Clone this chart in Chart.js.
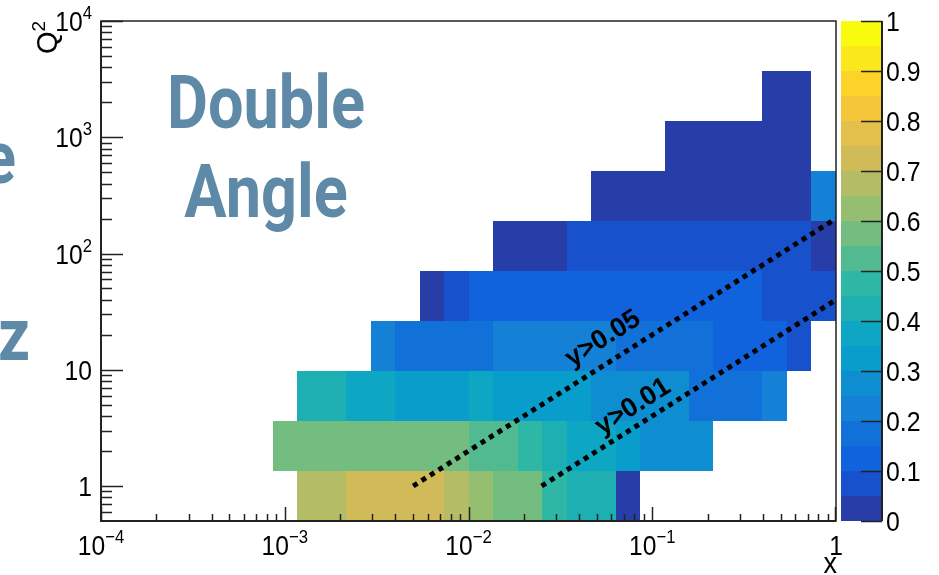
<!DOCTYPE html>
<html>
<head>
<meta charset="utf-8">
<script src="https://cdn.jsdelivr.net/npm/chart.js@4.4.1/dist/chart.umd.min.js"></script>
<style>
  html, body { margin: 0; padding: 0; background: #fff; }
  #wrap { width: 939px; height: 575px; }
</style>
</head>
<body>
<div id="wrap"><canvas id="c" width="939" height="575"></canvas></div>
<script>
// histogram binning: 30 log bins in x (1e-4 .. 1), 10 log bins in Q2 (0.5 .. 1e4)
var xEdges = [1e-4, 1.359e-4, 1.848e-4, 2.512e-4, 3.415e-4, 4.642e-4, 6.310e-4, 8.577e-4,
  1.166e-3, 1.585e-3, 2.154e-3, 2.929e-3, 3.981e-3, 5.412e-3, 7.356e-3, 0.01,
  0.01359, 0.01848, 0.02512, 0.03415, 0.04642, 0.06310, 0.08577, 0.1166,
  0.1585, 0.2154, 0.2929, 0.3981, 0.5412, 0.7356, 1];
var q2Edges = [0.5, 1.346, 3.623, 9.752, 26.25, 70.66, 190.2, 512.0, 1378, 3710, 10000];

// cell values per Q2 row, bottom row first (null = empty bin)
var _ = null;
var row0 = [_,_,_,_,_,_,_,_, .68,.67,.72,.73,.74,.72,.69,.63,.58,.57,.47,.43,.42,.03, _,_,_,_,_,_,_,_];
var row1 = [_,_,_,_,_,_,_, .58,.57,.58,.59,.58,.57,.58,.57,.53,.52,.48,.43,.38,.37,.33,.28,.27,.28, _,_,_,_,_];
var row2 = [_,_,_,_,_,_,_,_, .43,.42,.38,.37,.33,.32,.33,.37,.33,.32,.34,.33,.28,.27,.28,.27,.18,.17,.18,.22, _,_];
var row3 = [_,_,_,_,_,_,_,_,_,_,_, .22,.18,.17,.18,.17,.22,.23,.22,.23,.22,.18,.17,.18,.17,.12,.13,.12,.08, _];
var row4 = [_,_,_,_,_,_,_,_,_,_,_,_,_, .03,.08,.13,.12,.13,.12,.13,.12,.13,.12,.13,.12,.13,.12,.08,.07,.08];
var row5 = [_,_,_,_,_,_,_,_,_,_,_,_,_,_,_,_, .03,.02,.03,.08,.07,.08,.07,.08,.07,.08,.07,.08,.07,.03];
var row6 = [_,_,_,_,_,_,_,_,_,_,_,_,_,_,_,_,_,_,_,_, .02,.03,.02,.03,.02,.03,.02,.03,.02,.23];
var row7 = [_,_,_,_,_,_,_,_,_,_,_,_,_,_,_,_,_,_,_,_,_,_,_, .02,.03,.02,.03,.02,.02, _];
var row8 = [_,_,_,_,_,_,_,_,_,_,_,_,_,_,_,_,_,_,_,_,_,_,_,_,_,_,_, .02,.02, _];
var row9 = [_,_,_,_,_,_,_,_,_,_,_,_,_,_,_,_,_,_,_,_,_,_,_,_,_,_,_,_,_,_];
var rows = [row0, row1, row2, row3, row4, row5, row6, row7, row8, row9];

// inelasticity cut lines  (Q2 = y * s * x)
var cut05 = [{ x: 0.005, y: 1 }, { x: 1, y: 200 }];
var cut01 = [{ x: 0.025, y: 1 }, { x: 1, y: 40 }];
var cutLabels = ['y>0.05', 'y>0.01'];

// axis ticks
var xMajor = [1e-4, 1e-3, 1e-2, 1e-1, 1];
var xLabelBase = ['10', '10', '10', '10', '1'];
var xLabelExp = ['\u22124', '\u22123', '\u22122', '\u22121', ''];
var yMajor = [1, 10, 100, 1000, 10000];
var yLabelBase = ['1', '10', '10', '10', '10'];
var yLabelExp = ['', '', '2', '3', '4'];
var zTicks = [0, 0.1, 0.2, 0.3, 0.4, 0.5, 0.6, 0.7, 0.8, 0.9, 1];
var zTickLabels = ['0', '0.1', '0.2', '0.3', '0.4', '0.5', '0.6', '0.7', '0.8', '0.9', '1'];
var zLevels = 20;

// ROOT kBird palette
var birdStops = [0, 0.125, 0.25, 0.375, 0.5, 0.625, 0.75, 0.875, 1];
var birdR = [0.2082, 0.0592, 0.0780, 0.0232, 0.1802, 0.5301, 0.8186, 0.9956, 0.9764];
var birdG = [0.1664, 0.3599, 0.5041, 0.6419, 0.7178, 0.7492, 0.7328, 0.7862, 0.9832];
var birdB = [0.5293, 0.8684, 0.8385, 0.7914, 0.6425, 0.4662, 0.3499, 0.1968, 0.0539];

function birdColor(t) {
  var i = 1;
  while (i < birdStops.length - 1 && t > birdStops[i]) i++;
  var f = (t - birdStops[i - 1]) / (birdStops[i] - birdStops[i - 1]);
  var r = birdR[i - 1] + f * (birdR[i] - birdR[i - 1]);
  var g = birdG[i - 1] + f * (birdG[i] - birdG[i - 1]);
  var b = birdB[i - 1] + f * (birdB[i] - birdB[i - 1]);
  return 'rgb(' + Math.round(r * 255) + ',' + Math.round(g * 255) + ',' + Math.round(b * 255) + ')';
}

function levelColor(k) {
  var idx = Math.floor((k + 0.99) * 255 / zLevels);
  return birdColor(Math.min(1, idx / 254));
}

function valueColor(v) {
  var k = Math.min(zLevels - 1, Math.floor(v * zLevels + 1e-9));
  return levelColor(k);
}

var FONT = '"Liberation Sans", Arial, Helvetica, sans-serif';

// text squeezed horizontally a bit, like the reference
function drawText(ctx, txt, x, y, size, sx, align, font) {
  ctx.save();
  ctx.font = size + 'px ' + (font || FONT);
  ctx.textAlign = align || 'left';
  ctx.textBaseline = 'alphabetic';
  ctx.translate(x, y);
  ctx.scale(sx, 1);
  ctx.fillText(txt, 0, 0);
  ctx.restore();
}

function textWidth(ctx, txt, size, sx) {
  ctx.font = size + 'px ' + FONT;
  return ctx.measureText(txt).width * sx;
}

function drawPow(ctx, base, exp, x, y, align) {
  var fs = 28, es = 19, sx = 0.88;
  var wb = textWidth(ctx, base, fs, sx);
  var we = exp ? textWidth(ctx, exp, es, sx) : 0;
  var x0 = x;
  if (align === 'center') x0 = x - (wb + we) / 2;
  if (align === 'right') x0 = x - (wb + we);
  drawText(ctx, base, x0, y, fs, sx, 'left');
  if (exp) drawText(ctx, exp, x0 + wb, y - 12, es, sx, 'left');
}

var heatmap = {
  id: 'heatmap',
  beforeDatasetsDraw: function (chart) {
    var ctx = chart.ctx, xs = chart.scales.x, ys = chart.scales.y;
    ctx.save();
    rows.forEach(function (row, j) {
      var yTop = Math.round(ys.getPixelForValue(q2Edges[j + 1]));
      var yBot = Math.round(ys.getPixelForValue(q2Edges[j]));
      row.forEach(function (v, i) {
        if (v === null) return;
        var x0 = Math.round(xs.getPixelForValue(xEdges[i]));
        var x1 = Math.round(xs.getPixelForValue(xEdges[i + 1]));
        ctx.fillStyle = valueColor(v);
        ctx.fillRect(x0, yTop, x1 - x0, yBot - yTop);
      });
    });
    ctx.restore();
  }
};

var frame = {
  id: 'frame',
  afterDraw: function (chart) {
    var ctx = chart.ctx, a = chart.chartArea;
    var xs = chart.scales.x, ys = chart.scales.y, zs = chart.scales.z;
    ctx.save();

    // cut labels, rotated along their lines
    ctx.fillStyle = '#000';
    [[cut05, cutLabels[0], { x: 0.054, y: 18.4 }], [cut01, cutLabels[1], { x: 0.0785, y: 4.8 }]].forEach(function (c) {
      var p0x = xs.getPixelForValue(c[0][0].x), p0y = ys.getPixelForValue(c[0][0].y);
      var p1x = xs.getPixelForValue(c[0][1].x), p1y = ys.getPixelForValue(c[0][1].y);
      var ang = Math.atan2(p1y - p0y, p1x - p0x);
      ctx.save();
      ctx.translate(xs.getPixelForValue(c[2].x), ys.getPixelForValue(c[2].y));
      ctx.rotate(ang);
      ctx.font = 'bold 27px ' + FONT;
      ctx.textAlign = 'center';
      ctx.textBaseline = 'middle';
      ctx.fillText(c[1], 0, 0);
      ctx.restore();
    });

    // frame box
    ctx.strokeStyle = '#222';
    ctx.lineWidth = 1.5;
    ctx.strokeRect(a.left, a.top, a.right - a.left, a.bottom - a.top);
    ctx.lineWidth = 2;
    ctx.beginPath();
    ctx.moveTo(a.left, a.top); ctx.lineTo(a.left, a.bottom); ctx.lineTo(a.right, a.bottom);
    ctx.stroke();

    // x ticks
    ctx.lineWidth = 1.5;
    ctx.beginPath();
    for (var d = -4; d < 0; d++) {
      for (var m = 1; m <= 9; m++) {
        var px = Math.round(xs.getPixelForValue(m * Math.pow(10, d))) + 0.5;
        var len = m === 1 ? 14 : 7;
        ctx.moveTo(px, a.bottom); ctx.lineTo(px, a.bottom - len);
      }
    }
    ctx.moveTo(a.right - 0.5, a.bottom); ctx.lineTo(a.right - 0.5, a.bottom - 14);
    ctx.stroke();

    // y ticks
    ctx.beginPath();
    [0.6, 0.7, 0.8, 0.9].forEach(function (v) {
      var py = Math.round(ys.getPixelForValue(v)) + 0.5;
      ctx.moveTo(a.left, py); ctx.lineTo(a.left + 11, py);
    });
    for (var e = 0; e < 4; e++) {
      for (var n = 1; n <= 9; n++) {
        var py = Math.round(ys.getPixelForValue(n * Math.pow(10, e))) + 0.5;
        ctx.moveTo(a.left, py); ctx.lineTo(a.left + (n === 1 ? 22 : 11), py);
      }
    }
    ctx.moveTo(a.left, a.top + 0.5); ctx.lineTo(a.left + 22, a.top + 0.5);
    ctx.stroke();

    // tick labels
    ctx.fillStyle = '#000';
    xMajor.forEach(function (v, i) {
      drawPow(ctx, xLabelBase[i], xLabelExp[i], xs.getPixelForValue(v), 555, 'center');
    });
    yMajor.forEach(function (v, i) {
      drawPow(ctx, yLabelBase[i], yLabelExp[i], 92, ys.getPixelForValue(v) + 10, 'right');
    });

    // axis titles
    drawText(ctx, 'x', 837, 573, 30, 0.9, 'right');
    ctx.save();
    ctx.translate(57, a.top);
    ctx.rotate(-Math.PI / 2);
    var w2 = textWidth(ctx, '2', 19, 1);
    drawText(ctx, 'Q', -w2, 0, 29, 1, 'right');
    drawText(ctx, '2', -w2, -12, 19, 1, 'left');
    ctx.restore();

    // colour palette
    var pl = 841, pr = 882;
    for (var k = 0; k < zLevels; k++) {
      var y0 = Math.round(zs.getPixelForValue(k / zLevels));
      var y1 = Math.round(zs.getPixelForValue((k + 1) / zLevels));
      ctx.fillStyle = levelColor(k);
      ctx.fillRect(pl, y1, pr - pl, y0 - y1);
    }
    ctx.strokeStyle = '#222';
    ctx.lineWidth = 2;
    ctx.beginPath();
    ctx.moveTo(pr, zs.getPixelForValue(0)); ctx.lineTo(pr, zs.getPixelForValue(1));
    ctx.stroke();
    ctx.lineWidth = 1.5;
    ctx.beginPath();
    zTicks.forEach(function (v) {
      var py = Math.round(zs.getPixelForValue(v)) + 0.5;
      ctx.moveTo(pr, py); ctx.lineTo(pr - 21, py);
    });
    ctx.stroke();
    ctx.fillStyle = '#000';
    zTicks.forEach(function (v, i) {
      drawText(ctx, zTickLabels[i], 886, zs.getPixelForValue(v) + 10, 27, 0.92, 'left');
    });

    // method label, plus the clipped text of the neighbouring panel
    ctx.fillStyle = '#5e89a7';
    var big = 'bold 75px Roboto, "Liberation Sans", sans-serif';
    ctx.save();
    ctx.font = big;
    [['Double', 266, 128, 'center'], ['Angle', 266, 217, 'center'], ['e', 16, 183, 'right'], ['z', 30, 360, 'right']].forEach(function (t) {
      ctx.save();
      ctx.textAlign = t[3];
      ctx.translate(t[1], t[2]);
      ctx.scale(0.84, 1);
      ctx.fillText(t[0], 0, 0);
      ctx.restore();
    });
    ctx.restore();

    ctx.restore();
  }
};

var cutLine = {
  showLine: true,
  borderColor: '#000',
  borderWidth: 5,
  borderDash: [5, 5],
  borderCapStyle: 'butt',
  pointRadius: 0,
  tension: 0
};

new Chart(document.getElementById('c'), {
  type: 'scatter',
  data: {
    datasets: [
      Object.assign({ label: cutLabels[0], data: cut05 }, cutLine),
      Object.assign({ label: cutLabels[1], data: cut01 }, cutLine)
    ]
  },
  options: {
    responsive: false,
    animation: false,
    devicePixelRatio: 1,
    events: [],
    layout: { padding: { left: 101, right: 103, top: 21, bottom: 54 } },
    plugins: { legend: { display: false }, tooltip: { enabled: false } },
    scales: {
      x: { type: 'logarithmic', min: 1e-4, max: 1, display: false },
      y: { type: 'logarithmic', min: 0.5, max: 1e4, display: false },
      z: { type: 'linear', position: 'right', min: 0, max: 1, display: false }
    }
  },
  plugins: [heatmap, frame]
});
</script>
</body>
</html>
